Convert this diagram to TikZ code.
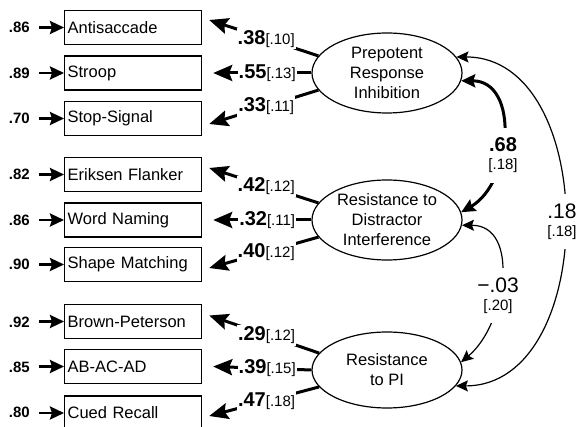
\documentclass[tikz,border=0pt]{standalone}
\usepackage{fontspec}
\setmainfont{Liberation Sans}
\usetikzlibrary{arrows.meta,shapes.geometric}
\newcommand\loadlbl[2]{{\fontsize{20}{20}\selectfont\bfseries #1}{\fontsize{15}{15}\selectfont[#2]}}
\begin{document}
\begin{tikzpicture}[x=1pt,y=1pt,
  box/.style={draw, line width=1.2pt, rectangle, minimum height=34pt, text width=131pt, inner xsep=3pt, align=left, font=\fontsize{16.5}{20}\selectfont, anchor=west},
  lat/.style={draw, line width=1.2pt, ellipse, minimum width=150pt, minimum height=80pt, inner sep=0pt, align=center, font=\fontsize{16.5}{20}\selectfont},
  res/.style={font=\fontsize{15}{15}\selectfont\bfseries, inner sep=0pt, anchor=base east},
  resarrow/.style={line width=2.6pt, -{Stealth[length=14pt,width=13pt,inset=2pt]}, shorten <=9pt},
  load/.style={line width=3pt, -{Stealth[length=19pt,width=16pt,inset=3pt]}},
  lbl/.style={fill=white, inner xsep=1pt, inner ysep=2pt},
  corrthick/.style={line width=3pt, {Stealth[length=14pt,width=13pt,inset=2pt]}-{Stealth[length=14pt,width=13pt,inset=2pt]}},
  corrthin/.style={line width=1.2pt, {Stealth[length=12pt,width=11pt,inset=2pt]}-{Stealth[length=12pt,width=11pt,inset=2pt]}},
  clbl/.style={fill=white, align=center, inner xsep=2pt, inner ysep=10pt, font=\fontsize{15}{18}\selectfont},
]
\useasboundingbox (0,0) rectangle (578,-427);

% observed measures
\node[box] (b1) at (64,-27.5) {Antisaccade};
\node[box] (b2) at (64,-73) {Stroop};
\node[box] (b3) at (64,-118.5) {Stop-Signal};
\node[box] (b4) at (64,-174.5) {Eriksen Flanker};
\node[box] (b5) at (64,-220) {Word Naming};
\node[box] (b6) at (64,-264.5) {Shape Matching};
\node[box] (b7) at (64,-321.5) {Brown-Peterson};
\node[box] (b8) at (64,-366.5) {AB-AC-AD};
\node[box] (b9) at (64,-413) {Cued Recall};

% residuals
\node[res] (r1) at (30,-33) {.86};
\node[res] (r2) at (30,-78.5) {.89};
\node[res] (r3) at (30,-124) {.70};
\node[res] (r4) at (30,-180) {.82};
\node[res] (r5) at (30,-225.5) {.86};
\node[res] (r6) at (30,-270) {.90};
\node[res] (r7) at (30,-327) {.92};
\node[res] (r8) at (30,-372) {.85};
\node[res] (r9) at (30,-417.5) {.80};
\foreach \i in {1,...,9}{
  \draw[resarrow] (r\i.east |- b\i.west) -- (b\i.west);
}

% latent variables
\node[lat] (pri) at (387,-73) {Prepotent\\Response\\Inhibition};
\node[lat] (rdi) at (387,-220) {Resistance to\\Distractor\\Interference};
\node[lat, minimum height=76pt] (rpi) at (387,-370) {Resistance\\to PI};

% loadings
\draw[load] (pri.166) -- node[lbl,pos=0.478] {\loadlbl{.38}{.10}} ([shift={(7,7.5)}]b1.east);
\draw[load] (pri.180) -- node[lbl,pos=0.45] {\loadlbl{.55}{.13}} ([shift={(11,0)}]b2.east);
\draw[load] (pri.194) -- node[lbl,pos=0.478] {\loadlbl{.33}{.11}} ([shift={(7,-5.5)}]b3.east);

\draw[load] (rdi.166) -- node[lbl,pos=0.478] {\loadlbl{.42}{.12}} ([shift={(7,6.5)}]b4.east);
\draw[load] (rdi.180) -- node[lbl,pos=0.45] {\loadlbl{.32}{.11}} ([shift={(11,0)}]b5.east);
\draw[load] (rdi.194) -- node[lbl,pos=0.478] {\loadlbl{.40}{.12}} ([shift={(7,-3.5)}]b6.east);

\draw[load] (rpi.166) -- node[lbl,pos=0.478] {\loadlbl{.29}{.12}} ([shift={(7,6)}]b7.east);
\draw[load] (rpi.180) -- node[lbl,pos=0.45] {\loadlbl{.39}{.15}} ([shift={(11,0)}]b8.east);
\draw[load] (rpi.194) -- node[lbl,pos=0.478] {\loadlbl{.47}{.18}} ([shift={(7,-3)}]b9.east);

% correlations
\draw[corrthick] (pri.-6) to[out=0,in=30,looseness=1.15] (rdi.6);
\draw[corrthin] (rdi.-4) to[out=0,in=40,looseness=1.1] (rpi.6);
\draw[corrthin] (pri.13) to[out=0,in=0,looseness=1.12] (rpi.-13);
\node[clbl] (c1) at (503,-155.5) {{\bfseries\fontsize{20}{18}\selectfont .68}\\{[.18]}};
\node[clbl] (c2) at (498,-295.5) {{\fontsize{21}{18}\selectfont −.03}\\{[.20]}};
\node[clbl] (c3) at (562,-221.5) {{\fontsize{21}{18}\selectfont .18}\\{[.18]}};
\end{tikzpicture}
\end{document}
